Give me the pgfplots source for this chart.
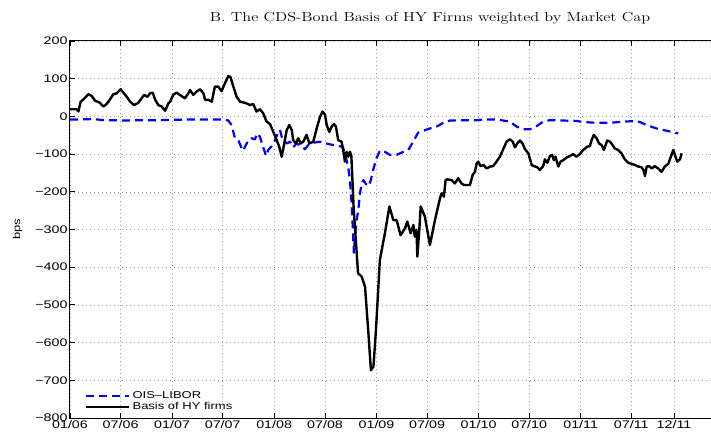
\documentclass[border=0pt]{standalone}
\usepackage{fontspec}
\setmainfont{Liberation Sans}[FakeStretch=1.3]
\newfontfamily\plainsans{Liberation Sans}
\newfontfamily\titlefont{Latin Modern Roman}[FakeStretch=1.25]
\usepackage{pgfplots}
\usepackage{pgfplotstable}
\pgfplotsset{compat=1.18}

% x = days since 01 Jan 2006, y = bps
\pgfplotstableread{
d v
0 -8
40 -8
83 -7
120 -10
155 -10
203 -11
262 -10
322 -10
380 -9
441 -8
500 -8
548 -8
566 -11
578 -23
584 -41
590 -58
602 -63
614 -85
620 -91
626 -80
638 -63
650 -58
661 -61
670 -45
679 -54
691 -82
701 -105
709 -89
721 -79
733 -63
745 -41
751 -36
757 -54
765 -63
775 -72
787 -67
798 -82
810 -72
822 -76
840 -87
852 -76
870 -70
894 -67
918 -72
953 -78
971 -80
977 -85
987 -110
995 -135
1001 -169
1007 -231
1011 -292
1015 -362
1019 -319
1025 -275
1031 -248
1037 -204
1043 -178
1049 -169
1058 -179
1067 -185
1075 -171
1084 -142
1096 -111
1108 -91
1126 -94
1144 -102
1168 -102
1192 -94
1210 -89
1227 -67
1245 -43
1263 -38
1287 -32
1311 -27
1335 -17
1359 -11
1406 -10
1454 -10
1490 -8
1525 -8
1549 -11
1573 -14
1597 -27
1621 -34
1645 -34
1668 -26
1692 -14
1716 -10
1764 -11
1811 -12
1835 -15
1883 -17
1931 -17
1978 -14
2026 -12
2044 -17
2062 -23
2097 -32
2121 -36
2175 -45
}\oislibor

\pgfplotstableread{
d v
0 19
24 19
30 13
38 39
48 45
66 59
78 54
89 42
107 36
119 26
131 33
143 45
155 59
167 61
181 72
191 63
203 52
215 39
229 30
244 36
256 48
265 57
277 52
286 61
296 63
304 45
316 30
328 26
340 15
352 35
358 39
369 57
381 63
393 57
411 48
423 61
429 70
441 57
453 66
465 72
477 61
483 44
495 44
507 39
518 79
530 79
542 67
554 88
566 107
574 104
584 79
596 52
608 39
626 36
644 30
655 33
667 13
679 19
691 8
703 -14
715 -20
727 -41
739 -63
748 -80
757 -107
765 -76
775 -36
784 -23
793 -36
798 -63
808 -72
816 -58
825 -72
834 -67
846 -49
856 -72
870 -67
882 -32
894 -1
903 13
912 4
918 -23
927 -41
936 -27
944 -20
951 -27
959 -63
971 -67
977 -89
983 -120
989 -94
995 -107
1001 -94
1006 -105
1010 -170
1014 -240
1022 -328
1030 -416
1043 -425
1055 -452
1067 -575
1076 -673
1085 -664
1094 -567
1108 -381
1126 -310
1142 -239
1156 -275
1168 -275
1182 -315
1198 -297
1206 -279
1218 -310
1228 -288
1233 -319
1239 -301
1242 -372
1249 -301
1254 -239
1269 -266
1287 -341
1305 -275
1323 -217
1329 -204
1337 -213
1343 -169
1349 -167
1365 -169
1376 -178
1388 -164
1400 -178
1409 -182
1430 -182
1440 -155
1448 -147
1454 -125
1460 -120
1468 -132
1478 -129
1490 -138
1502 -133
1513 -132
1525 -120
1537 -107
1549 -87
1561 -67
1573 -61
1583 -67
1591 -82
1599 -72
1609 -64
1618 -72
1627 -87
1639 -98
1651 -129
1659 -132
1671 -135
1680 -142
1692 -132
1698 -114
1707 -123
1716 -105
1724 -102
1730 -116
1736 -107
1746 -133
1754 -120
1764 -116
1776 -109
1788 -105
1799 -100
1811 -107
1823 -100
1835 -89
1850 -80
1859 -79
1865 -63
1873 -49
1883 -58
1892 -72
1901 -76
1909 -89
1921 -64
1931 -67
1940 -76
1948 -85
1960 -89
1972 -98
1984 -114
1996 -123
2008 -126
2020 -129
2032 -133
2044 -135
2050 -142
2056 -158
2062 -133
2071 -132
2080 -138
2091 -132
2103 -138
2115 -147
2127 -133
2139 -126
2151 -102
2157 -89
2163 -102
2171 -120
2181 -114
2187 -98
}\basis

\begin{document}
\begin{tikzpicture}
\begin{axis}[
  width=660pt, height=377pt, scale only axis,
  xmin=0, xmax=2360, ymin=-800, ymax=200,
  xtick={0,181,365,546,730,912,1096,1277,1461,1642,1826,2007,2160},
  xticklabels={01/06,07/06,01/07,07/07,01/08,07/08,01/09,07/09,01/10,07/10,01/11,07/11,12/11},
  ytick={-800,-700,-600,-500,-400,-300,-200,-100,0,100,200},
  yticklabels={−800,−700,−600,−500,−400,−300,−200,−100,0,100,200},
  xtick pos=both, ytick pos=left,
  grid=major,
  grid style={gray!75, line width=0.5pt, dash pattern=on 1pt off 3pt},
  tick align=inside, major tick length=5pt,
  tick style={black, line width=0.8pt},
  axis line style={line width=1pt},
  tick label style={font=\fontsize{11}{12}\selectfont},
  xticklabel style={yshift=1.5pt},
  yticklabel style={xshift=1pt},
  ylabel={bps},
  ylabel style={font=\plainsans\fontsize{10}{12}\selectfont},
  every axis y label/.style={at={(axis description cs:-0.0795,0.5)}, rotate=90, anchor=center},
  title={B. The CDS-Bond Basis of HY Firms weighted by Market Cap},
  title style={at={(axis description cs:0.5455,1)}, anchor=base, yshift=13pt, font=\titlefont\fontsize{13}{15}\selectfont},
  legend style={at={(axis description cs:0.0227,0.012)}, anchor=south west, draw=none, fill=none,
    font=\fontsize{10}{12}\selectfont, inner sep=0pt, row sep=-1.5pt},
  legend cell align=left,
  legend image code/.code={\draw[#1] (0pt,0pt) -- (43pt,0pt);},
]
\addplot[blue, line width=2.2pt, dash pattern=on 8pt off 5pt, line join=round] table[x=d, y=v] {\oislibor};
\addlegendentry{OIS–LIBOR}
\addplot[black, line width=2.4pt, line join=round] table[x=d, y=v] {\basis};
\addlegendentry{Basis of HY firms}
\end{axis}
\pgfresetboundingbox
\path[use as bounding box] (-70pt,-15pt) rectangle (641pt,418pt);
\end{tikzpicture}
\end{document}
